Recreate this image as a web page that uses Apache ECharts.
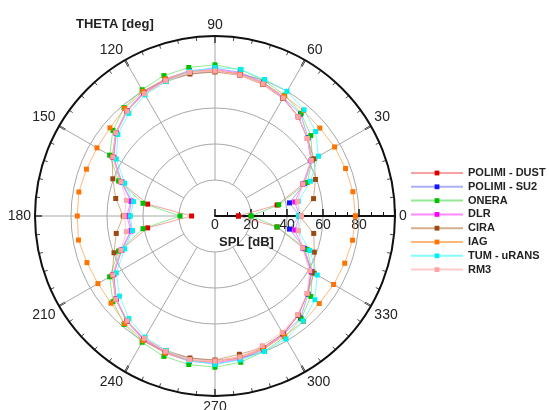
<!DOCTYPE html>
<html>
<head>
<meta charset="utf-8">
<script src="https://cdn.jsdelivr.net/npm/echarts@6/dist/echarts.min.js"></script>
<style>html,body{margin:0;padding:0;background:#fff;}#c{width:549px;height:410px;}</style>
</head>
<body>
<div id="c"></div>
<script>
// angles (deg) of the data points; the last one closes the curve
var angles = [0,10,20,30,40,50,60,70,80,90,100,110,120,130,140,150,160,170,
              180,190,200,210,220,230,240,250,260,270,280,290,300,310,320,330,340,350,360];
var seriesNames = ['POLIMI - DUST','POLIMI - SU2','ONERA','DLR','CIRA','IAG','TUM - uRANS','RM3'];

var polimiDust = [13,35,52,62,67,72,75.5,78,79.5,80.5,81,80.5,79,76,72,65.5,56,38,
                  13,38,56,65.5,72,76,79,80.5,81,80.5,79.5,78,75.5,72,67,62,52,35,13];
var polimiSu2  = [47,42,53,62,67.5,74,76,79,81,82,82,81,79.5,76.5,72,65,55,47,
                  48,47,55,65,72,76.5,79.5,81,82,82,81,79,76,74,67.5,62,53,42,47];
var onera      = [20,36,54.5,62.5,69.5,74.5,77.5,80,82.5,84,83.8,83,81,78.6,74,67.6,57,40.6,
                  19.4,40.6,57,67.6,74,78.6,81,83,83.8,84,82.5,80,77.5,74.5,69.5,62.5,54.5,35,20];
var dlr        = [47,45,52,61.5,67,72,76,78.5,80.5,81.5,81.5,80.5,79,76,71.5,65,55.5,47.5,
                  49,47.5,55.5,65,71.5,76,79,80.5,81.5,81.5,80.5,78.5,76,72,67,61.5,52,45,47];
var cira       = [47,55.6,59.4,63.6,67,72,75.5,77.7,79.4,80,80.1,79.5,78.5,76,72,66,60.4,56,
                  51,55.7,59.7,66,72,76,78.5,79.5,80.1,80,78,77.7,75.5,72,67,63.6,58.7,55.7,47];
var iag        = [78,77.8,77.2,76.7,76,76.5,77,78.5,80,81,81.5,81,80,78,76.2,75.7,76,76.8,
                  76.5,77,75.7,75.1,75.4,78,80,81,81.5,81,80,78.5,77,76.5,75.6,76.1,76.7,77.6,78];
var tum        = [46.3,47,56.4,66.4,73,77,80,80.7,82.7,82.5,81.5,79.5,77.7,74.4,70.4,63.3,53.4,46,
                  47,46.6,53.4,63.3,69.3,74.4,77.7,79.5,81.5,82.5,81.2,80.1,78.9,76.2,72.4,65.6,56,47,46.3];
var rm3        = [48,46.5,52,61.8,67,72,75.7,78,79.5,80.5,81,80,78.5,76,72,65.6,55.6,50,
                  50.4,50,55.6,65.6,72,76,78.5,80,81,80.5,79.5,76.7,74.7,71.5,66.9,60.7,51.7,47,48];

var radialTicks = [0,20,40,60,80];
var angleTicks = [0,30,60,90,120,150,180,210,240,270,300,330];

var seriesValues = [polimiDust, polimiSu2, onera, dlr, cira, iag, tum, rm3];
var markerColors = ['#dd0000','#1414ff','#00c000','#ff00ff','#9a4a12','#ff7400','#00f0f0','#ffa3a3'];
var lineColors = ['rgba(240,110,110,0.65)','rgba(130,130,255,0.65)','rgba(90,220,90,0.65)',
                  'rgba(255,90,255,0.7)','rgba(190,130,80,0.65)','rgba(255,160,80,0.75)',
                  'rgba(90,250,250,0.75)','rgba(255,190,190,0.8)'];

var chart = echarts.init(document.getElementById('c'), null, {renderer:'canvas'});
var series = seriesNames.map(function(name, i){
  return {
    name: name,
    type: 'line',
    coordinateSystem: 'polar',
    polarIndex: 0,
    symbol: 'rect',
    symbolSize: 5,
    showAllSymbol: true,
    animation: false,
    itemStyle: {color: markerColors[i]},
    lineStyle: {color: lineColors[i], width: 1},
    data: seriesValues[i].map(function(v, k){ return [v, angles[k]]; })
  };
});

var option = {
  backgroundColor: '#fff',
  animation: false,
  title: [
    {text: 'THETA [deg]', left: 71, top: 13,
     textStyle: {fontFamily: 'Liberation Sans, Arial, sans-serif', fontSize: 13, fontWeight: 'bold', color: '#222'}},
    {text: 'SPL [dB]', left: 214, top: 231,
     textStyle: {fontFamily: 'Liberation Sans, Arial, sans-serif', fontSize: 13, fontWeight: 'bold', color: '#222'}}
  ],
  legend: {
    orient: 'vertical', left: 405, top: 162,
    itemWidth: 52, itemHeight: 6, itemGap: 1.8,
    textStyle: {fontFamily: 'Liberation Sans, Arial, sans-serif', fontSize: 11, fontWeight: 'bold', color: '#222', lineHeight: 12},
    data: seriesNames
  },
  polar: [
    {center: [215, 216], radius: [0, 180]},
    {center: [215, 216], radius: [36, 180]}
  ],
  angleAxis: [
    {polarIndex: 0, type: 'value', min: 0, max: 360, interval: 30, startAngle: 0, clockwise: false,
     axisLine: {show: true, lineStyle: {color: '#111', width: 2}},
     axisTick: {show: true, inside: true, length: 7, lineStyle: {color: '#111', width: 2}},
     minorTick: {show: true, splitNumber: 5, length: 4, lineStyle: {color: '#444', width: 1}},
     splitLine: {show: false},
     axisLabel: {show: true, margin: 4, fontFamily: 'Liberation Sans, Arial, sans-serif', fontSize: 14, color: '#222',
       formatter: function(v){ return angleTicks.indexOf(v) >= 0 ? String(v) : ''; }}},
    {polarIndex: 1, type: 'value', min: 0, max: 360, interval: 30, startAngle: 0, clockwise: false,
     axisLine: {show: false}, axisTick: {show: false}, axisLabel: {show: false},
     splitLine: {show: true, lineStyle: {color: '#a8a8a8', width: 1}}}
  ],
  radiusAxis: [
    {polarIndex: 0, type: 'value', min: 0, max: 100, interval: 20,
     axisLine: {show: true, lineStyle: {color: '#111', width: 2}},
     axisTick: {show: true, length: 7, lineStyle: {color: '#111', width: 1.5}},
     minorTick: {show: true, splitNumber: 3, length: 4, lineStyle: {color: '#111', width: 1}},
     splitLine: {show: true, lineStyle: {color: '#a8a8a8', width: 1}},
     axisLabel: {show: true, margin: -16, lineHeight: 14, fontFamily: 'Liberation Sans, Arial, sans-serif', fontSize: 14, color: '#222',
       formatter: function(v){ return radialTicks.indexOf(v) >= 0 ? String(v) : ''; }}},
    {polarIndex: 1, type: 'value', min: 0, max: 100, show: false,
     axisLine: {show: false}, axisTick: {show: false}, axisLabel: {show: false}, splitLine: {show: false}}
  ],
  series: series
};
chart.setOption(option);
</script>
</body>
</html>
